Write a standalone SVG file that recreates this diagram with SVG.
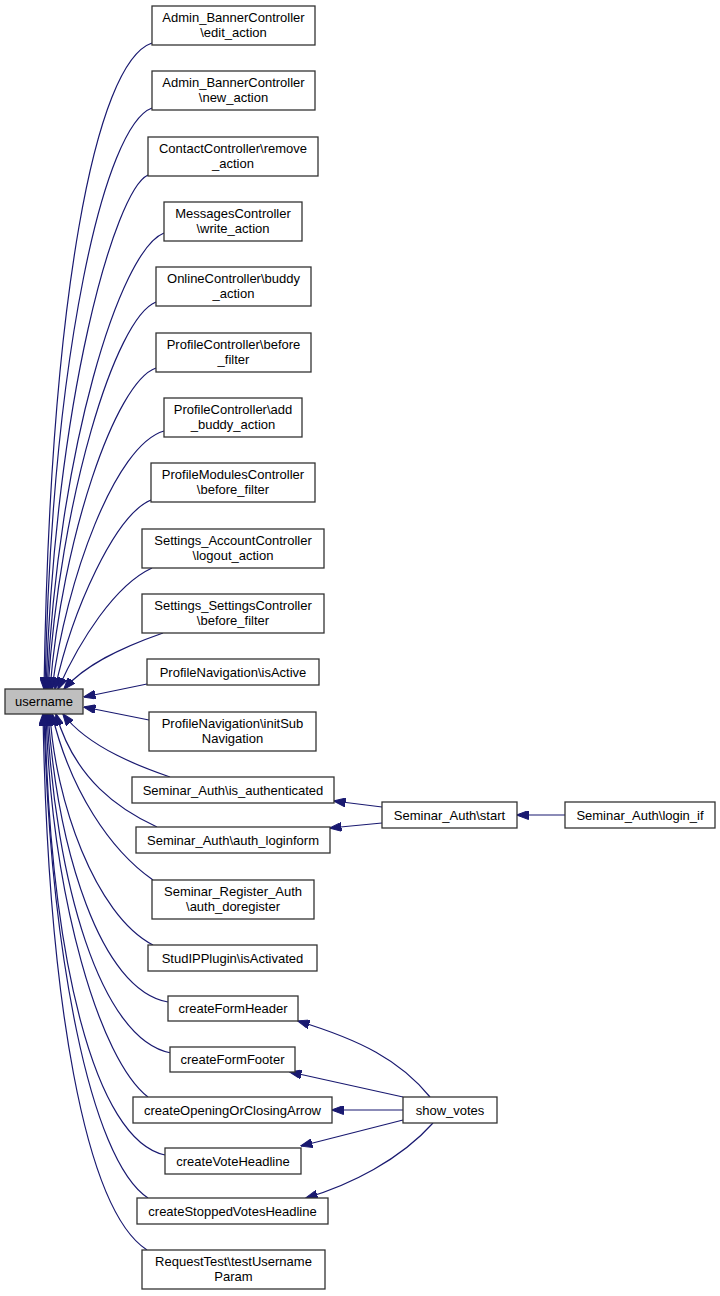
<svg xmlns="http://www.w3.org/2000/svg" width="720" height="1296" viewBox="0 0 720 1296">
<style>
.n rect{fill:#ffffff;stroke:#333333;stroke-width:1.3}
.n.hl rect{fill:#bfbfbf}
.n text{font-family:"Liberation Sans",Arial,sans-serif;font-size:13px;fill:#000000;text-anchor:middle}
#edges path{fill:none;stroke:#191970;stroke-width:1.2;marker-end:url(#ah)}
</style>
<defs>
<marker id="ah" markerUnits="userSpaceOnUse" viewBox="0 0 12 9" refX="11.5" refY="4.5" markerWidth="12" markerHeight="9" orient="auto">
<path d="M0,0 L12,4.5 L0,9 z" fill="#191970" stroke="#191970" stroke-width="1"/>
</marker>
</defs>
<rect width="720" height="1296" fill="#ffffff"/>
<g id="edges">
<path d="M152,43 C95,62 50,300 44,689"/>
<path d="M152,108 C105,125 52,350 45,689"/>
<path d="M148,175 C115,190 55,400 46,689"/>
<path d="M164,233 C120,250 58,450 47,689"/>
<path d="M156,302 C115,318 60,500 48,689"/>
<path d="M156,368 C115,382 62,540 50,689"/>
<path d="M164,431 C115,445 66,580 52,689"/>
<path d="M151,500 C115,515 72,610 55,689"/>
<path d="M152,568 C115,585 80,640 58,689"/>
<path d="M163,633 C120,648 85,665 64,689"/>
<path d="M147,684 L84,697"/>
<path d="M149,720 L84,707"/>
<path d="M170,777 C150,770 90,750 63,714"/>
<path d="M157,827 C120,810 75,780 56,714"/>
<path d="M153,880 C110,850 70,790 52,714"/>
<path d="M153,945 C95,915 55,800 50,714"/>
<path d="M168,1002 C100,990 58,850 48,714"/>
<path d="M171,1053 C100,1040 55,880 47,714"/>
<path d="M148,1097 C100,1060 52,900 46,714"/>
<path d="M165,1155 C95,1140 50,960 45,714"/>
<path d="M148,1198 C90,1160 50,950 44,714"/>
<path d="M147,1250 C85,1210 48,1000 43,714"/>
<path d="M382,807 L334,801"/>
<path d="M382,823 L330,828"/>
<path d="M565,815 L517,815"/>
<path d="M430,1097 C400,1060 360,1040 298,1021"/>
<path d="M403,1097 L290,1072"/>
<path d="M403,1110 L332,1110"/>
<path d="M403,1120 L301,1146"/>
<path d="M433,1123 C400,1160 350,1185 306,1198"/>
</g>
<g id="username" class="n hl"><rect x="5" y="689" width="78" height="25"/><text x="44" y="706">username</text></g>
<g id="n1" class="n"><rect x="152" y="6" width="163" height="39"/><text x="233.5" y="22">Admin_BannerController</text><text x="233.5" y="37">\edit_action</text></g>
<g id="n2" class="n"><rect x="152" y="71" width="163" height="39"/><text x="233.5" y="87">Admin_BannerController</text><text x="233.5" y="102">\new_action</text></g>
<g id="n3" class="n"><rect x="148" y="137" width="170" height="39"/><text x="233" y="153">ContactController\remove</text><text x="233" y="168">_action</text></g>
<g id="n4" class="n"><rect x="164" y="202" width="138" height="39"/><text x="233" y="218">MessagesController</text><text x="233" y="233">\write_action</text></g>
<g id="n5" class="n"><rect x="156" y="267" width="155" height="39"/><text x="233.5" y="283">OnlineController\buddy</text><text x="233.5" y="298">_action</text></g>
<g id="n6" class="n"><rect x="156" y="333" width="155" height="39"/><text x="233.5" y="349">ProfileController\before</text><text x="233.5" y="364">_filter</text></g>
<g id="n7" class="n"><rect x="164" y="398" width="138" height="39"/><text x="233" y="414">ProfileController\add</text><text x="233" y="429">_buddy_action</text></g>
<g id="n8" class="n"><rect x="151" y="463" width="164" height="39"/><text x="233" y="479">ProfileModulesController</text><text x="233" y="494">\before_filter</text></g>
<g id="n9" class="n"><rect x="142" y="529" width="182" height="39"/><text x="233" y="545">Settings_AccountController</text><text x="233" y="560">\logout_action</text></g>
<g id="n10" class="n"><rect x="142" y="594" width="182" height="39"/><text x="233" y="610">Settings_SettingsController</text><text x="233" y="625">\before_filter</text></g>
<g id="n11" class="n"><rect x="147" y="659" width="172" height="26"/><text x="233" y="676.5">ProfileNavigation\isActive</text></g>
<g id="n12" class="n"><rect x="149" y="712" width="167" height="39"/><text x="232.5" y="728">ProfileNavigation\initSub</text><text x="232.5" y="743">Navigation</text></g>
<g id="n13" class="n"><rect x="132" y="777" width="202" height="26"/><text x="233" y="794.5">Seminar_Auth\is_authenticated</text></g>
<g id="n14" class="n"><rect x="136" y="827" width="194" height="26"/><text x="233" y="844.5">Seminar_Auth\auth_loginform</text></g>
<g id="n15" class="n"><rect x="152" y="880" width="162" height="39"/><text x="233" y="896">Seminar_Register_Auth</text><text x="233" y="911">\auth_doregister</text></g>
<g id="n16" class="n"><rect x="148" y="945" width="169" height="26"/><text x="232.5" y="962.5">StudIPPlugin\isActivated</text></g>
<g id="n17" class="n"><rect x="168" y="996" width="130" height="25"/><text x="233" y="1013">createFormHeader</text></g>
<g id="n18" class="n"><rect x="170" y="1047" width="125" height="25"/><text x="232.5" y="1064">createFormFooter</text></g>
<g id="n19" class="n"><rect x="133" y="1097" width="199" height="26"/><text x="232.5" y="1114.5">createOpeningOrClosingArrow</text></g>
<g id="n20" class="n"><rect x="165" y="1148" width="136" height="26"/><text x="233" y="1165.5">createVoteHeadline</text></g>
<g id="n21" class="n"><rect x="137" y="1198" width="191" height="26"/><text x="232.5" y="1215.5">createStoppedVotesHeadline</text></g>
<g id="n22" class="n"><rect x="142" y="1250" width="183" height="39"/><text x="233.5" y="1266">RequestTest\testUsername</text><text x="233.5" y="1281">Param</text></g>
<g id="start" class="n"><rect x="382" y="802" width="135" height="26"/><text x="449.5" y="819.5">Seminar_Auth\start</text></g>
<g id="login_if" class="n"><rect x="565" y="802" width="150" height="26"/><text x="640" y="819.5">Seminar_Auth\login_if</text></g>
<g id="show_votes" class="n"><rect x="403" y="1097" width="94" height="26"/><text x="450" y="1114.5">show_votes</text></g>
</svg>
